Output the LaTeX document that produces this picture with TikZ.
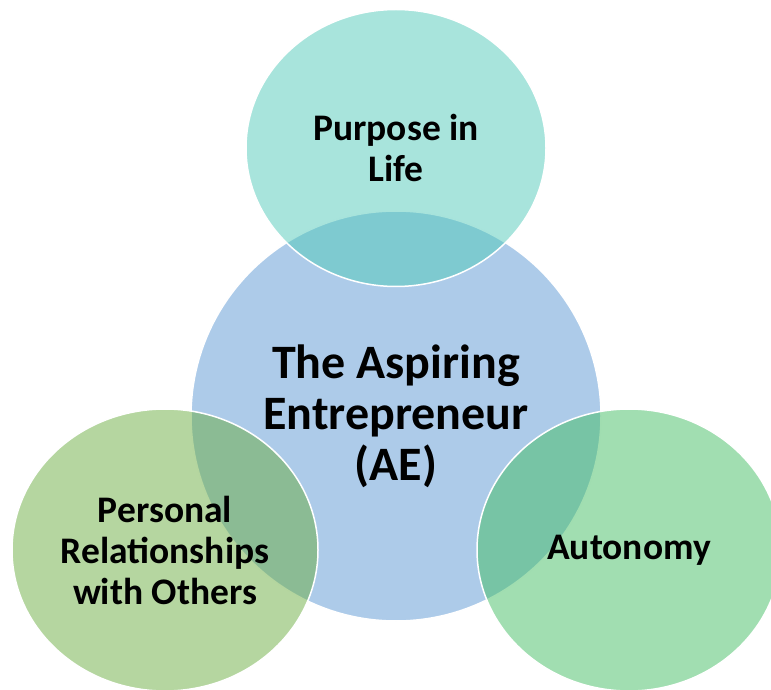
\documentclass[tikz,border=0pt]{standalone}
\usepackage{fontspec}
\setmainfont{Carlito}
\usetikzlibrary{shapes.geometric,positioning}
\definecolor{aeblue}{RGB}{91,151,211}
\definecolor{lifeteal}{RGB}{81,201,185}
\definecolor{relgreen}{RGB}{107,173,65}
\definecolor{autgreen}{RGB}{67,189,99}
\tikzset{on grid, % Places node centres at the given distances
        bubble/.style={ % Sets the properties for each circle
            ellipse,
            draw=white,
            line width=1.5pt,
            fill opacity=0.5, % Lets the overlaps show through
            text opacity=1,
            align=center},
        big text/.style={font=\bfseries\fontsize{48}{51}\selectfont},
        small text/.style={font=\bfseries\fontsize{37.5}{41}\selectfont}
        }

\begin{document}
\begin{tikzpicture}[x=1pt,y=1pt]
    \useasboundingbox (0,0) rectangle (771,689);

    \node[bubble,big text,fill=aeblue,minimum width=410pt,minimum height=410pt]
        (ae) at (396,273) {The Aspiring\\Entrepreneur\\(AE)};
    \node[bubble,small text,fill=lifeteal,minimum width=300pt,minimum height=277pt]
        (life) [above=268pt of ae] {Purpose in\\Life};
    \node[bubble,small text,fill=relgreen,minimum width=306pt,minimum height=282pt]
        (rel) [below left=134pt and 231pt of ae] {Personal\\Relationships\\with Others};
    \node[bubble,small text,fill=autgreen,minimum width=304pt,minimum height=282pt]
        (aut) [below right=134pt and 233pt of ae] {Autonomy};
\end{tikzpicture}
\end{document}
